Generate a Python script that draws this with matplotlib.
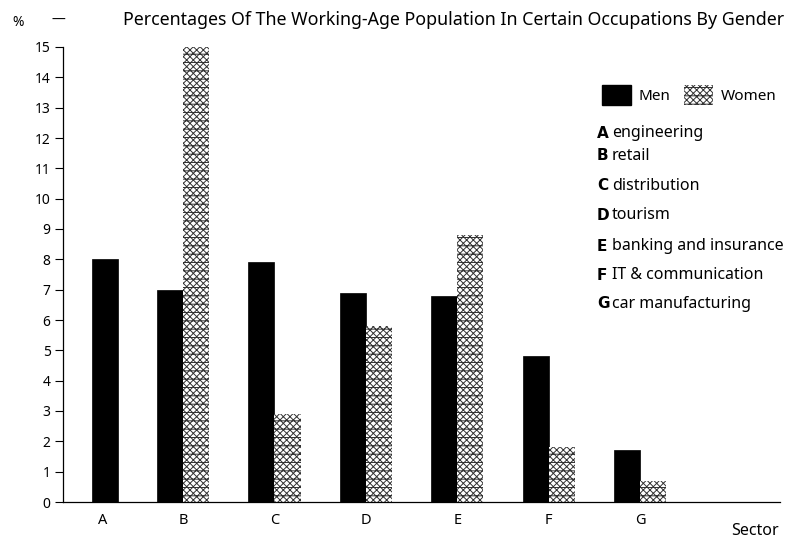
import numpy as np
import matplotlib
matplotlib.use("Agg")
import matplotlib.pyplot as plt
from matplotlib.patches import Patch

plt.rcParams['font.family'] = ['Noto Sans', 'DejaVu Sans']
plt.rcParams['hatch.linewidth'] = 0.7

categories = ["A", "B", "C", "D", "E", "F", "G"]
sector_names = ["engineering", "retail", "distribution", "tourism",
                "banking and insurance", "IT & communication", "car manufacturing"]
men = [8.0, 7.0, 7.9, 6.9, 6.8, 4.8, 1.7]
women = [0.0, 15.0, 2.9, 5.8, 8.8, 1.8, 0.7]
yticks = list(range(0, 16))

fig = plt.figure(figsize=(7.92, 5.42), dpi=100)
ax = fig.add_axes([63/792, 1-502/542, 717/792, 455/542])

w = 0.285
x = np.arange(len(categories), dtype=float)
men_x = np.where(np.array(women) > 0, x - w/2, x + w/2)
tick_x = np.where(np.array(women) > 0, x, x + w/2 - 0.02)

ax.bar(men_x, men, width=w, color='black', edgecolor='black', linewidth=0.5)
wm = np.array(women) > 0
ax.bar(x[wm] + w/2, np.array(women)[wm], width=w, facecolor='white',
       edgecolor='#333333', hatch='xxxxx--', linewidth=0)

ax.set_xlim(-0.313, 7.53)
ax.set_ylim(0, 15)
ax.set_yticks(yticks)
ax.set_yticklabels([str(t) for t in yticks], fontsize=10)
ax.set_xticks(tick_x)
ax.set_xticklabels(categories, fontsize=10.5)
ax.tick_params(axis='y', length=6, width=0.8, pad=3)
ax.tick_params(axis='x', length=0, pad=8)
for s in ['top', 'right']:
    ax.spines[s].set_visible(False)
ax.spines['left'].set_linewidth(0.9)
ax.spines['bottom'].set_linewidth(0.9)
for b in ax.patches:
    b.set_clip_on(False)

fig.text(454/792, 1-20/542, "Percentages Of The Working-Age Population In Certain Occupations By Gender",
         ha='center', va='center', fontsize=12.8)
fig.text(18/792, 1-22/542, "%", ha='center', va='center', fontsize=10)
fig.text(58/792, 1-20/542, "—", ha='center', va='center', fontsize=10)
fig.text(755/792, 1-531/542, "Sector", ha='center', va='center', fontsize=11.5)

handles = [Patch(facecolor='black', edgecolor='black', label='Men'),
           Patch(facecolor='white', edgecolor='#333333', hatch='xxxxx--', linewidth=0, label='Women')]
fig.legend(handles=handles, loc='center left', bbox_to_anchor=(588/792, 1-95/542),
           ncol=2, frameon=False, fontsize=11, handlelength=1.9, handleheight=1.6,
           columnspacing=0.9, handletextpad=0.5)

ys = [133, 156, 186, 215, 246, 275, 304]
for c, n, yy in zip(categories, sector_names, ys):
    fig.text(597/792, 1-yy/542, c, ha='left', va='center', fontsize=11,
             fontweight='bold', family=['DejaVu Sans'])
    fig.text(612/792, 1-yy/542, n, ha='left', va='center', fontsize=11.5)

fig.savefig("out.png", dpi=100)
